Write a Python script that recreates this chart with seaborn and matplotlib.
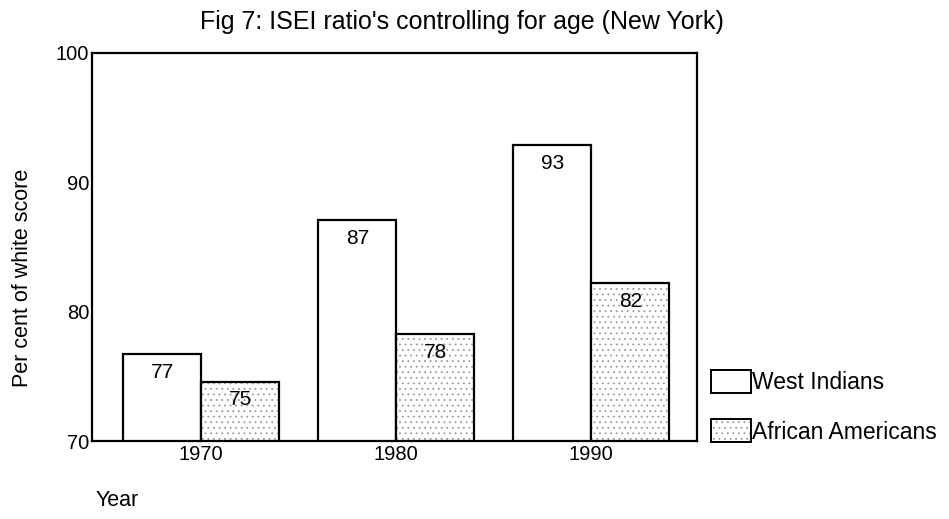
import numpy as np
import pandas as pd
import matplotlib
matplotlib.use("Agg")
import matplotlib.pyplot as plt
import seaborn as sns

# values
years = ["1970", "1980", "1990"]
west_indians = [76.7, 87.1, 92.9]
african_americans = [74.6, 78.3, 82.2]
bar_labels_wi = ["77", "87", "93"]
bar_labels_aa = ["75", "78", "82"]
groups = ["West Indians", "African Americans"]
y_ticks = [70, 80, 90, 100]

df = pd.DataFrame({
    "year": years * 2,
    "value": west_indians + african_americans,
    "group": [groups[0]] * 3 + [groups[1]] * 3,
})

sns.set_style("white", {"text.color": "black", "axes.labelcolor": "black",
                        "xtick.color": "black", "ytick.color": "black"})
plt.rcParams["font.family"] = ["Liberation Sans", "DejaVu Sans"]
plt.rcParams["hatch.linewidth"] = 0.6

fig = plt.figure(figsize=(9.49, 5.19), dpi=100)
ax = fig.add_axes([0.097, 0.150, 0.637, 0.748])

sns.barplot(data=df, x="year", y="value", hue="group", hue_order=groups,
            palette=["white", "white"], edgecolor="black", linewidth=1.6,
            width=0.8, ax=ax, legend=False)

# dotted fill for the second group
dot_grey = (0.6, 0.6, 0.6, 1.0)
for patch in ax.containers[1]:
    patch.set_hatch("...")
    patch._hatch_color = dot_grey

ax.bar_label(ax.containers[0], labels=bar_labels_wi, padding=-20, fontsize=15)
ax.bar_label(ax.containers[1], labels=bar_labels_aa, padding=-20, fontsize=15)

ax.set_ylim(70, 100)
ax.set_xlim(-0.56, 2.54)
ax.set_yticks(y_ticks)
ax.tick_params(axis="both", labelsize=14.5, length=3, width=2, direction="in",
               color="black", pad=3)
ax.tick_params(axis="y", pad=2)
for side in ["left", "right", "top", "bottom"]:
    ax.spines[side].set_visible(True)
    ax.spines[side].set_color("black")
    ax.spines[side].set_linewidth(1.6)
ax.set_xlabel("")
ax.set_ylabel("Per cent of white score", fontsize=15.5)
ax.yaxis.set_label_coords(-0.097, 0.42)

fig.suptitle("Fig 7: ISEI ratio's controlling for age (New York)",
             fontsize=18, x=0.487, y=0.98)
fig.text(0.101, 0.025, "Year", fontsize=15.5)

# legend outside the axes, no frame
handles = [plt.Rectangle((0, 0), 1, 1, facecolor="white", edgecolor="black", linewidth=1.4),
           plt.Rectangle((0, 0), 1, 1, facecolor="white", edgecolor="black", linewidth=1.4,
                         hatch="...")]
handles[1]._hatch_color = dot_grey
fig.legend(handles, groups, loc="upper left", bbox_to_anchor=(0.749, 0.287),
           frameon=False, fontsize=16.5, handlelength=1.75, handleheight=1.15,
           handletextpad=0.05, labelspacing=1.1, borderpad=0, borderaxespad=0)

fig.savefig("out.png", dpi=100)
